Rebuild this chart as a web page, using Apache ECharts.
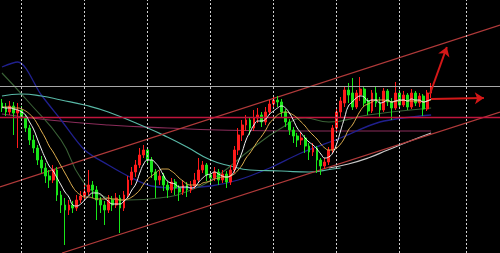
<!DOCTYPE html>
<html>
<head>
<meta charset="utf-8">
<script src="https://cdn.jsdelivr.net/npm/echarts@6/dist/echarts.min.js"></script>
<style>
html,body{margin:0;padding:0;background:#000;}
#chart{width:500px;height:253px;}
</style>
</head>
<body>
<div id="chart"></div>
<script>
// ---- data (price units, bar index on x) ----
const totalSlots = 127; // 110 bars + empty future space
const candles = [ // [open, close, low, high]
[150,145,141,154],[145,141,137,150],[141,147,138,152],[147,140,118,151],[140,143,105,150],
[143,135,132,147],[135,125,121,138],[125,113,108,128],[113,105,100,118],[105,93,88,108],
[93,85,80,97],[85,77,70,90],[77,73,65,83],[73,83,70,88],[83,58,52,86],
[58,48,40,62],[48,43,8,55],[43,48,38,53],[48,45,40,52],[45,53,42,58],
[53,57,50,62],[57,61,53,68],[61,68,58,83],[68,63,55,72],[63,53,33,67],
[53,48,40,56],[48,43,28,52],[43,53,40,58],[53,48,42,57],[48,55,45,60],
[55,45,20,58],[45,58,42,62],[58,73,55,77],[73,81,68,86],[81,88,76,93],
[88,98,85,105],[98,103,95,108],[103,93,88,106],[93,81,75,96],[81,73,55,84],
[73,77,68,82],[77,68,62,80],[68,63,55,72],[63,71,60,75],[71,65,58,74],
[65,61,52,68],[61,68,58,72],[68,63,56,71],[63,67,60,72],[67,73,64,80],
[73,83,70,95],[83,88,80,92],[88,78,72,90],[78,75,70,82],[75,81,72,86],
[81,73,68,84],[73,79,70,83],[79,71,65,82],[71,83,68,88],[83,103,80,107],
[103,118,98,125],[118,128,112,133],[128,133,122,138],[133,125,118,136],[125,135,122,143],
[135,138,130,145],[138,131,126,141],[131,141,128,146],[141,149,138,153],[149,153,145,158],
[153,151,146,157],[151,141,136,154],[141,131,126,144],[131,123,118,134],[123,117,110,126],
[117,113,106,120],[113,115,108,121],[115,107,100,118],[107,101,93,110],[101,105,97,110],
[105,93,80,107],[93,87,78,95],[87,91,84,95],[91,103,88,106],[103,125,100,128],
[125,141,122,145],[141,152,136,156],[150,163,146,166],[163,158,150,170],[160,146,143,175],
[146,160,144,163],[158,164,152,176],[164,150,147,166],[152,142,138,155],[142,160,140,163],
[160,150,146,166],[150,143,135,156],[143,162,141,165],[162,151,147,164],[151,145,133,155],
[145,160,143,171],[160,148,145,163],[148,158,146,162],[158,146,143,160],[146,160,144,164],
[160,150,147,162],[150,157,146,160],[157,144,137,159],[144,160,142,163],[160,166,155,170]
];
const maFast = [146,145,145,144,143,141,138,131,124,114,
104,95,87,82,75,68,61,56,48,47,
49,53,57,60,60,59,55,52,49,49,
49,52,56,63,69,80,89,93,93,90,
85,78,72,70,69,66,66,66,65,66,
71,75,78,79,81,79,77,76,77,82,
91,101,113,121,128,132,132,134,139,142,
145,147,145,140,133,125,120,115,111,108,
104,99,95,96,100,109,122,135,147,151,
155,157,156,152,153,153,150,151,153,151,
152,153,153,152,154,153,153,151,152,154];
const maSlow = [146,146,146,145,145,144,142,139,135,129,
122,115,107,101,94,87,80,73,66,61,
58,56,56,55,54,54,54,55,54,54,
53,53,54,56,59,63,69,74,77,80,
83,84,84,82,79,75,72,69,68,68,
68,70,71,72,74,75,76,76,77,79,
83,88,95,100,106,112,117,123,130,134,
138,140,141,140,138,135,131,127,122,118,
114,109,105,103,103,105,109,115,123,128,
135,142,147,149,151,153,153,153,152,151,
152,152,153,152,152,152,152,151,152,153];
// long averages: [bar index, value]
const maTeal = [[0,157],[5,159],[10,157],[15,153],[21,148],[27,141],[37,125],[42,116],[47,106],[53,93],[58,87],[63,83],[71,82],[78,81],[84,84],[86,85]];
const maGray = [[83,85],[88,89],[93,95],[98,103],[103,111],[109,120]];
const maMaroon = [[0,139],[12,133],[27,128],[42,125],[55,123],[75,122],[95,122],[109,122]];
const maBlue = [[0,186],[4,191],[10,158],[15,133],[21,103],[27,88],[33,75],[38,67],[45,65],[53,67],[60,73],[68,85],[76,100],[86,115],[96,131],[109,138]];
const maGreen = [[0,180],[7,150],[15,113],[20,75],[25,58],[32,53],[40,55],[48,63],[55,78],[63,103],[71,125],[77,135],[83,131],[93,138],[109,145]];
// channel lines: [bar index, value]
const channelUpper = [[-0.5,66],[126.5,228]];
const channelLower = [[15.25,0],[126.5,141]];
const levelResist = 166.5;
const levelSupport = 136;
const timeGridBars = [5,21,37,53,69,85,101,118];
const arrowUp = [[108.7,159],[113,206]];
const arrowFlat = [[109,154],[122.4,155]];

const categories = [];
for (let i = 0; i < totalSlots; i++) categories.push(String(i + 1));

const chart = echarts.init(document.getElementById('chart'), null, {renderer:'canvas'});
const lineBase = {type:'line', xAxisIndex:1, yAxisIndex:0, showSymbol:false, symbol:'none', silent:true, z:3};
chart.setOption({
  backgroundColor:'#000000',
  animation:false,
  grid:{left:0,right:0,top:0,bottom:0},
  xAxis:[
    {type:'category', data:categories, boundaryGap:true, show:false},
    {type:'value', min:-0.5, max:totalSlots-0.5, show:false}
  ],
  yAxis:{type:'value', min:0, max:253, show:false},
  series:[
    Object.assign({}, lineBase, {name:'grid', data:[], z:1,
      markLine:{silent:true, symbol:['none','none'], label:{show:false},
        lineStyle:{color:'#d0d0d0', type:[2,2], width:1},
        data: timeGridBars.map(v => ({xAxis:v}))
          .concat([{yAxis:levelResist, lineStyle:{color:'#a8a8a8', type:'solid', width:1}},
                   {yAxis:levelSupport, lineStyle:{color:'#c0143c', type:'solid', width:1.3}}])
      }}),
    Object.assign({}, lineBase, {name:'maroon', data:maMaroon, smooth:true, lineStyle:{color:'#8a2c5a', width:1.2}}),
    Object.assign({}, lineBase, {name:'blue', data:maBlue, smooth:0.3, lineStyle:{color:'#20208e', width:1.3}}),
    Object.assign({}, lineBase, {name:'green', data:maGreen, smooth:true, lineStyle:{color:'#3a6236', width:1.1}}),
    Object.assign({}, lineBase, {name:'teal', data:maTeal, smooth:true, lineStyle:{color:'#58b8a6', width:1.2}}),
    Object.assign({}, lineBase, {name:'gray', data:maGray, smooth:true, lineStyle:{color:'#c8c8c8', width:1.2}}),
    Object.assign({}, lineBase, {name:'upper', data:channelUpper, lineStyle:{color:'#b03a3a', width:1.2}}),
    Object.assign({}, lineBase, {name:'lower', data:channelLower, lineStyle:{color:'#b03a3a', width:1.2}}),
    {type:'candlestick', name:'price', xAxisIndex:0, yAxisIndex:0, data:candles, barWidth:'58%', z:4,
      itemStyle:{color:'#ff1a1a', color0:'#19e619', borderColor:'#ff1a1a', borderColor0:'#19e619', borderWidth:1}},
    {type:'line', name:'maSlow', xAxisIndex:0, data:maSlow, showSymbol:false, smooth:true, z:5, lineStyle:{color:'#e0b050', width:1}},
    {type:'line', name:'maFast', xAxisIndex:0, data:maFast, showSymbol:false, smooth:true, z:5, lineStyle:{color:'#f4f4f4', width:1}},
    Object.assign({}, lineBase, {name:'arrows', data:[], z:6,
      markLine:{silent:true, symbol:['none','arrow'], symbolSize:9, label:{show:false},
        lineStyle:{color:'#d41818', type:'solid', width:2},
        data:[
          [{coord:arrowUp[0]},{coord:arrowUp[1]}],
          [{coord:arrowFlat[0]},{coord:arrowFlat[1]}]
        ]}})
  ]
});
</script>
</body>
</html>
